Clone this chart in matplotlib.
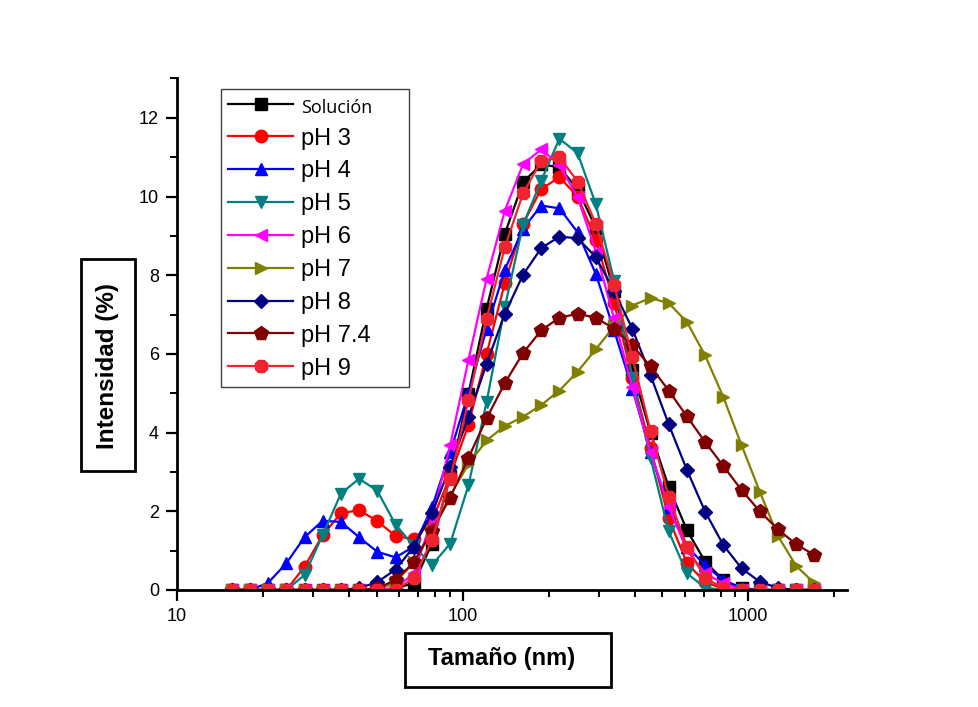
import matplotlib.pyplot as plt
import matplotlib.patches as patches
from matplotlib.ticker import MultipleLocator, LogLocator, NullFormatter, FixedLocator, FixedFormatter

# Clases de tamaño del DLS (nm)
tamano = [15.54, 17.99, 20.84, 24.14, 27.95, 32.37, 37.49, 43.41, 50.28, 58.23,
          67.44, 78.1, 90.45, 104.8, 121.3, 140.5, 162.7, 188.4, 218.2, 252.7,
          292.7, 339.0, 392.6, 454.7, 526.6, 609.9, 706.4, 818.1, 947.5, 1097,
          1271, 1472, 1705]

# Intensidad (%) de cada muestra
solucion = [0, 0, 0, 0, 0, 0, 0, 0, 0, 0.05, 0.17, 1.18, 2.9, 4.99, 7.15, 9.05, 10.36,
            10.82, 10.74, 10.19, 9.2, 7.6, 5.6, 4.0, 2.62, 1.52, 0.72, 0.25, 0.05, 0, 0, 0, 0]
ph3 = [0, 0, 0, 0, 0.59, 1.4, 1.95, 2.03, 1.75, 1.37, 1.29, 1.75, 2.9, 4.2, 6.0, 7.8, 9.3,
       10.19, 10.49, 10.0, 8.9, 7.3, 5.4, 3.6, 1.83, 0.68, 0.2, 0.03, 0, 0, 0, 0, 0]
ph4 = [0, 0, 0.18, 0.68, 1.34, 1.76, 1.73, 1.34, 0.97, 0.83, 1.1, 2.1, 3.5, 5.0, 6.64, 8.14,
       9.18, 9.77, 9.7, 9.09, 8.03, 6.6, 5.12, 3.5, 2.1, 1.1, 0.63, 0.25, 0.05, 0, 0, 0, 0]
ph5 = [0, 0, 0, 0, 0.38, 1.4, 2.45, 2.83, 2.52, 1.66, 1.12, 0.63, 1.18, 2.66, 4.78, 7.19,
       9.28, 10.4, 11.47, 11.1, 9.8, 7.86, 5.4, 3.36, 1.49, 0.42, 0.06, 0, 0, 0, 0, 0, 0]
ph6 = [0, 0, 0, 0, 0, 0, 0, 0, 0, 0.05, 0.42, 1.8, 3.68, 5.85, 7.91, 9.64, 10.82, 11.2,
       10.8, 9.98, 8.6, 6.9, 5.16, 3.51, 2.11, 1.01, 0.42, 0.17, 0, 0, 0, 0, 0]
ph7 = [0, 0, 0, 0, 0, 0, 0, 0, 0, 0.2, 0.7, 1.5, 2.4, 3.2, 3.8, 4.17, 4.4, 4.7, 5.07,
       5.55, 6.12, 6.7, 7.23, 7.42, 7.29, 6.81, 5.96, 4.9, 3.68, 2.5, 1.37, 0.61, 0.17]
ph8 = [0, 0, 0, 0, 0, 0, 0, 0.05, 0.2, 0.52, 1.1, 1.96, 3.13, 4.4, 5.75, 7.02, 8.01, 8.69,
       8.98, 8.94, 8.46, 7.6, 6.64, 5.46, 4.21, 3.05, 1.99, 1.14, 0.55, 0.21, 0.05, 0, 0]
ph74 = [0, 0, 0, 0, 0, 0, 0, 0, 0.05, 0.25, 0.7, 1.5, 2.35, 3.36, 4.36, 5.26, 6.02, 6.6,
        6.92, 7.02, 6.92, 6.64, 6.22, 5.68, 5.07, 4.41, 3.76, 3.15, 2.54, 2.0, 1.54, 1.16, 0.89]
ph9 = [0, 0, 0, 0, 0, 0, 0, 0, 0, 0, 0.3, 1.27, 2.83, 4.82, 6.89, 8.71, 10.08, 10.9, 11.0,
       10.38, 9.3, 7.76, 5.92, 4.04, 2.37, 1.1, 0.3, 0.05, 0, 0, 0, 0, 0]

etiquetas = ['Solución', 'pH 3', 'pH 4', 'pH 5', 'pH 6', 'pH 7', 'pH 8', 'pH 7.4', 'pH 9']
series = [solucion, ph3, ph4, ph5, ph6, ph7, ph8, ph74, ph9]
colores = ['black', '#FF0000', '#0000FF', '#008080', '#FF00FF', '#808000', '#000080', '#800000', '#EE2430']
marcadores = ['s', 'o', '^', 'v', '<', '>', 'D', 'p', '8']
tam_marc = [8, 9, 9, 9, 9, 9, 7.5, 10, 10]

fig = plt.figure(figsize=(9.79, 7.07), dpi=100)
ax = fig.add_axes([0.1808, 0.1655, 0.684, 0.7235])

for y, lab, c, m, ms in zip(series, etiquetas, colores, marcadores, tam_marc):
    ax.plot(tamano, y, color=c, marker=m, markersize=ms, linewidth=1.6, label=lab)

ax.set_xscale('log')
ax.set_xlim(10, 2210)
ax.set_ylim(0, 13)
ax.xaxis.set_major_locator(FixedLocator([10, 100, 1000]))
ax.xaxis.set_major_formatter(FixedFormatter(['10', '100', '1000']))
ax.xaxis.set_minor_locator(LogLocator(base=10, subs=range(2, 10)))
ax.xaxis.set_minor_formatter(NullFormatter())
ax.yaxis.set_major_locator(MultipleLocator(2))
ax.yaxis.set_minor_locator(MultipleLocator(1))

for s in ['top', 'right']:
    ax.spines[s].set_visible(False)
for s in ['left', 'bottom']:
    ax.spines[s].set_linewidth(2)

ax.tick_params(which='major', direction='out', length=8, width=1.6, labelsize=13, pad=5)
ax.tick_params(which='minor', direction='out', length=5, width=1.4)
for t in ax.get_xticklabels() + ax.get_yticklabels():
    t.set_fontfamily('Liberation Sans')

# Leyenda (ancho fijo como en el original)
leg = ax.legend(loc='upper left', bbox_to_anchor=(0.2257, 0.874, 0.192, 0), mode='expand',
                bbox_transform=fig.transFigure,
                prop={'family': 'Liberation Sans', 'size': 17}, frameon=True, fancybox=False,
                edgecolor='#404040', framealpha=1, borderaxespad=0, borderpad=0.3,
                labelspacing=0.46, handlelength=2.75, handletextpad=0.35)
leg.get_frame().set_linewidth(1.0)
leg.get_texts()[0].set_fontfamily('Open Sans')
leg.get_texts()[0].set_fontsize(13)

# Títulos de los ejes dentro de recuadros
fig.add_artist(patches.Rectangle((81 / 979, 1 - 471 / 707), 54 / 979, 212 / 707,
                                 transform=fig.transFigure, fill=False, edgecolor='black', linewidth=2))
fig.text(108 / 979, 1 - 366 / 707, 'Intensidad (%)', rotation=90, ha='center', va='center',
         fontsize=17.5, fontweight='bold', family='Liberation Sans')
fig.add_artist(patches.Rectangle((405 / 979, 1 - 687 / 707), 206 / 979, 54 / 707,
                                 transform=fig.transFigure, fill=False, edgecolor='black', linewidth=2))
fig.text(502 / 979, 1 - 659 / 707, 'Tamaño (nm)', ha='center', va='center',
         fontsize=17, fontweight='bold', family='Liberation Sans')

plt.savefig('out.png', dpi=100)
